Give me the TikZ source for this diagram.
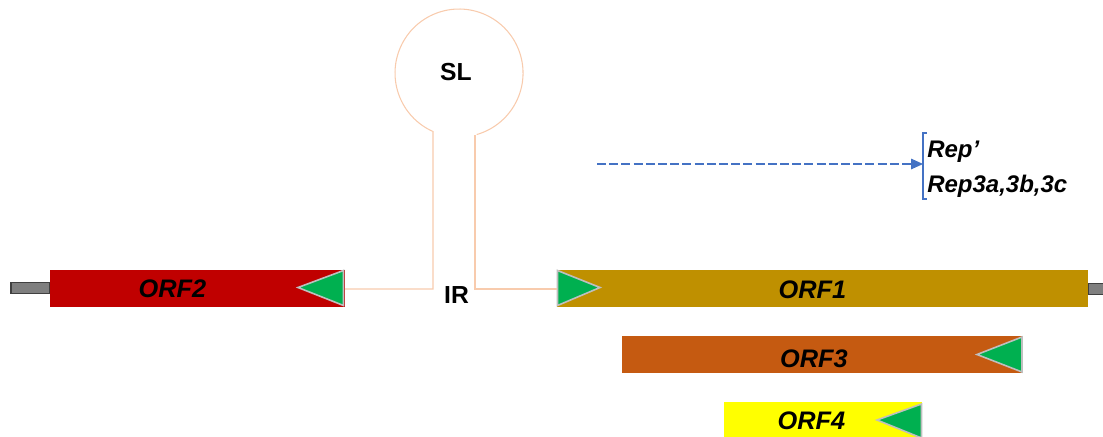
\documentclass[tikz,border=0pt]{standalone}
\usepackage{fontspec}
\setmainfont{Liberation Sans}
\usetikzlibrary{arrows.meta}
\definecolor{orfred}{HTML}{C00000}
\definecolor{orfgold}{HTML}{BF9000}
\definecolor{orfbrown}{HTML}{C55A11}
\definecolor{orfyellow}{HTML}{FFFF00}
\definecolor{trigreen}{HTML}{00B050}
\definecolor{trigrey}{HTML}{BFBFBF}
\definecolor{stemcol}{HTML}{F8CBAD}
\definecolor{bluecol}{HTML}{4472C4}
\definecolor{stubfill}{HTML}{7F7F7F}
\definecolor{stubdraw}{HTML}{404040}
\tikzset{
  orfbox/.style={draw=none, minimum height=37*0.75pt, inner sep=0pt, outer sep=0pt},
  stubbox/.style={draw=stubdraw, fill=stubfill, line width=1.4pt, minimum height=11*0.75pt, inner sep=0pt, outer sep=0pt},
  orflabel/.style={font=\fontsize{19}{22}\selectfont\bfseries\itshape, inner sep=0pt, anchor=base},
  sllabel/.style={font=\fontsize{18.5}{22}\selectfont\bfseries, inner sep=0pt, anchor=base},
  replabel/.style={font=\fontsize{18}{22}\selectfont\bfseries\itshape, inner sep=0pt, anchor=base west},
  tri/.style={fill=trigreen, draw=trigrey, line width=1.2pt, line join=miter},
  stem/.style={draw=stemcol, line width=0.8pt},
}
\begin{document}
\begin{tikzpicture}[x=0.75pt, y=-0.75pt]
\useasboundingbox (0,0) rectangle (1103,436);
% stubs
\node[stubbox, minimum width=39*0.75pt] (stubL) at (30.5,288) {};
\node[stubbox, minimum width=17*0.75pt] (stubR) at (1097,289) {};
% ORF boxes
\node[orfbox, fill=orfred, minimum width=295*0.75pt] (orf2) at (197.5,288.5) {};
\node[orfbox, fill=orfgold, minimum width=531*0.75pt] (orf1) at (822.5,288.5) {};
\node[orfbox, fill=orfbrown, minimum width=400*0.75pt] (orf3) at (822,354.5) {};
\node[orfbox, fill=orfyellow, minimum width=198*0.75pt, minimum height=38*0.75pt] (orf4) at (823,421) {};
% triangles
\draw[tri] (343.5,270.5) -- (343.5,305.5) -- (298,287.5) -- cycle;
\draw[tri] (557.5,270.5) -- (557.5,305.5) -- (600,287.5) -- cycle;
\draw[tri] (1022,337) -- (1022,372) -- (977,354.5) -- cycle;
\draw[tri] (921.5,404) -- (921.5,438) -- (877,420) -- cycle;
% labels
\node[orflabel] (l2) at (172.5,297) {ORF2};
\node[orflabel] (l1) at (812.5,298) {ORF1};
\node[orflabel] (l3) at (814,367) {ORF3};
\node[orflabel] (l4) at (811.5,429) {ORF4};
% stem loop
\coordinate (sa) at (433,289);
\coordinate (sb) at (475,289);
\coordinate (loopc) at (459,73);
\draw[stem] (orf2.east |- sa) -- (sa) -- (433,131.5)
  arc[start angle=114, end angle=434, radius=64];
\draw[stem] (orf1.west |- sb) -- (sb) -- (475,135);
\node[sllabel] (sl) at (456,80) {SL};
\node[sllabel] (ir) at (456.5,303) {IR};
% dashed arrow and bracket
\coordinate (arrS) at (597,164);
\coordinate (brk) at (923,164);
\draw[bluecol, line width=0.8pt, dash pattern=on 6.75pt off 2.4pt, -{Triangle[length=9pt,width=8pt]}] (arrS) -- (brk);
\draw[bluecol, line width=0.8pt] (927,133) -- (923,133) -- (923,199) -- (927,199);
\node[replabel] (rep1) at (927,157) {Rep’};
\node[replabel] (rep2) at (927,192) {Rep3a,3b,3c};
\end{tikzpicture}
\end{document}
